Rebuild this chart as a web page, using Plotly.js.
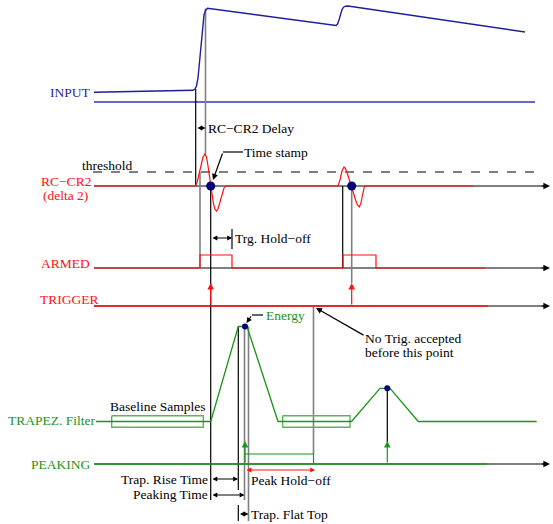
<!DOCTYPE html>
<html><head><meta charset="utf-8">
<script src="https://cdn.plot.ly/plotly-3.0.1.min.js"></script>
<style>html,body{margin:0;padding:0;background:#fff}</style>
</head><body><div id="chart" style="width:553px;height:524px"></div>
<script>
// ---- signal data (time axis = horizontal units, level = vertical units, top-down) ----
const inputX = [94,150,193,195,196.5,198,199.5,201,202.5,204,205.5,207.5,336,337.5,339,340.5,342,343.5,345.5,348,525];
const inputY = [92.3,91.5,90.3,89,86,78,62,42,25,15,10.5,8.3,25.5,24,20,14,9.5,7.2,6.2,6,32];
const inputBaseX = [94,535], inputBaseY = [102,102];

const cr2X = [94,195,197,199,201,203,205,206.5,208,209.5,210.7,212,213.5,215,216.5,218,220,222,224,225.5,
              338,340,342,344,345.5,347.5,349.5,351.7,353.5,355.5,357.5,359.3,361,362.5,363.5,364.5,473];
const cr2Y = [186,186,183,174,164,157,154,157,166,177,186,195,204,209.5,211,209,202,194,188,186,
              186,180,171,167,168.5,174,180,186,193,200,205,207,203,195,188,186,186];
const thresholdX = [93,535], thresholdY = [172,172];

const armedX = [94,200,200,232,232,343,343,376,376,485];
const armedY = [268,268,255,255,268,268,255,255,268,268];

const triggerX = [94,488], triggerY = [306,306];

const trapX = [96,210.7,238.3,247,278,351.5,380,390,418.3,536.7];
const trapY = [421.5,421.5,326.5,326.5,421.5,421.5,388.3,388.3,421.5,421.5];
const baselineBoxX = [[111.7,203.3],[282.7,350]];
const baselineBoxY = [415.7,427.2];

const peakingX = [94,487], peakingY = [464,464];
const holdoffX = [245,313.5,313.5], holdoffY = [454,454,464];

const timeStampX = [210.7,351.7], timeStampY = [186,186];
const energyX = [245,387.3], energyY = [326.5,388.3];

// axis levels and extents
const axisLevels = [186,268,306,464];
const axisStart = 94, axisEnd = 550;

// guide lines: [x, from, to]
const blackGuides = [[195.7,89,186],[210.7,186,500],[342.7,186,268],[238.3,326.5,490],[238.3,505,521],[387.3,388.3,442],[232,229,249]];
const grayGuides = [[205.5,8.5,154],[200,172,268],[351.7,186,283],[313.5,306,454],[244.5,326.5,500],[248.5,326.5,521]];

// ---- styling ----
const FONT = "'Liberation Serif', 'DejaVu Serif', 'Times New Roman', serif";
const BLUE='#1f1f99', BLUE2='#3535b5', RED='#ff1010', GREEN='#1a961a', LGREEN='#5cb35c', GRAY='#808080', NAVY='#00007a';

const traces = [];
function line(x, y, color, width, dash){
  traces.push({type:'scatter',mode:'lines',x:x,y:y,line:{color:color,width:width||1.2,dash:dash||'solid'},hoverinfo:'skip',showlegend:false});
}
// axes
axisLevels.forEach(l => line([axisStart,axisEnd-6],[l,l],'#000',1.2));
line(inputBaseX,inputBaseY,BLUE2,1.4);
line(thresholdX,thresholdY,'#000',1.1,'dash');
// guides
grayGuides.forEach(g => line([g[0],g[0]],[g[1],g[2]],GRAY,1.6));
blackGuides.forEach(g => line([g[0],g[0]],[g[1],g[2]],'#000',1.2));
// signals
line(inputX,inputY,BLUE,1.4);
line(cr2X,cr2Y,RED,1.2);
line(armedX,armedY,RED,1.2);
line(triggerX,triggerY,RED,1.4);
baselineBoxX.forEach(b => line([b[0],b[1],b[1],b[0],b[0]],[baselineBoxY[0],baselineBoxY[0],baselineBoxY[1],baselineBoxY[1],baselineBoxY[0]],LGREEN,1.4));
line(trapX,trapY,GREEN,1.3);
line(peakingX,peakingY,GREEN,1.4);
line(holdoffX,holdoffY,GREEN,1.2);
traces.push({type:'scatter',mode:'markers',x:timeStampX,y:timeStampY,marker:{color:NAVY,size:9},hoverinfo:'skip',showlegend:false});
traces.push({type:'scatter',mode:'markers',x:energyX,y:energyY,marker:{color:NAVY,size:6},hoverinfo:'skip',showlegend:false});

// ---- annotations ----
const ann = [];
function txt(text,x,y,anchor,color,size){
  ann.push({text:text,x:x,y:y,xref:'x',yref:'y',xanchor:anchor,yanchor:'middle',showarrow:false,borderpad:0,
    font:{family:FONT,size:size||13.5,color:color||'#000'}});
}
function arrow(x0,y0,x1,y1,color,opts){
  ann.push(Object.assign({text:'',x:x1,y:y1,ax:x0,ay:y0,xref:'x',yref:'y',axref:'x',ayref:'y',showarrow:true,
    arrowhead:2,arrowsize:1,arrowwidth:1.2,arrowcolor:color||'#000',standoff:0,startstandoff:0},opts||{}));
}
function darrow(x0,x1,y,color){
  arrow(x0,y,x1,y,color,{arrowside:'end+start',arrowhead:2,startarrowhead:2,arrowsize:0.8,startarrowsize:0.8});
}
// axis arrow heads
axisLevels.forEach(l => arrow(axisEnd-10,l,axisEnd,l,'#000',{arrowsize:1.1}));
// trigger arrows
timeStampX.forEach(x => arrow(x,306,x,283,RED,{arrowsize:1.1}));
// peaking arrows
energyX.forEach(x => arrow(x,464,x,441,GREEN,{arrowsize:1.1}));

// labels
txt('INPUT',92,92,'right',BLUE);
txt('threshold',81,165,'left');
txt('RC\u2212CR2',92,181,'right',RED);
txt('(delta 2)',89,195,'right',RED);
txt('ARMED',91,263,'right',RED);
txt('TRIGGER',100,299,'right',RED);
txt('TRAPEZ. Filter',97,420,'right',GREEN);
txt('PEAKING',91,464,'right',GREEN);

txt('RC\u2212CR2 Delay',207,128,'left');
darrow(196,205.5,128,'#000');
txt('Time stamp',243,152,'left');
line([243,223],[152,152],'#000',1.2);
arrow(223,152,213,180,'#000',{arrowsize:1});
txt('Trg. Hold\u2212off',234,238,'left');
darrow(211,232,238,'#000');
txt('Baseline Samples',109,406,'left');
txt('Energy',265,315,'left',GREEN);
line([263,252],[315,315],'#000',1.2);
arrow(252,315,246.5,323,'#000',{arrowsize:0.9});
txt('No Trig. accepted',364,338,'left');
txt('before this point',364,352,'left');
arrow(365,336,316,308,'#000',{arrowsize:1});

txt('Trap. Rise Time',209,479,'right');
darrow(211,238,479,'#000');
txt('Peaking Time',209,494.5,'right');
darrow(211,244.5,495,'#000');
txt('Trap. Flat Top',250,514,'left');
darrow(238.5,248.5,514,'#000');
txt('Peak Hold\u2212off',250,480,'left');
darrow(245,315,470,RED);

const layout = {
  width:553,height:524,margin:{l:0,r:0,t:0,b:0},
  paper_bgcolor:'#fff',plot_bgcolor:'#fff',
  xaxis:{range:[0,553],visible:false,fixedrange:true},
  yaxis:{range:[524,0],visible:false,fixedrange:true},
  annotations:ann,showlegend:false
};
Plotly.newPlot('chart',traces,layout,{displayModeBar:false,staticPlot:true});
</script></body></html>
